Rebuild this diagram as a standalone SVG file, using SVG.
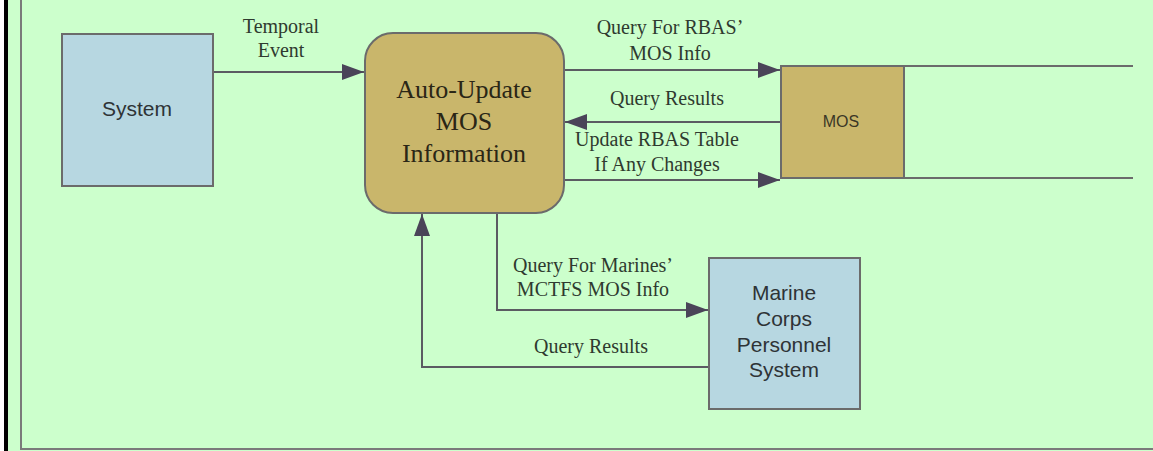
<svg xmlns="http://www.w3.org/2000/svg" width="1153" height="451" viewBox="0 0 1153 451">
<style>
.blue{fill:#b7d7e1;stroke:#6b6b6b;stroke-width:2}
.gold{fill:#c9b66b;stroke:#6b6b6b;stroke-width:2}
.conn{fill:none;stroke:#5b5b62;stroke-width:2}
.lbl{font-family:"Liberation Serif","Times New Roman",serif;font-size:20px;fill:#2f3a2f;text-anchor:middle}
.ntxt{font-family:"Liberation Serif","Times New Roman",serif;font-size:26px;fill:#2a2616;text-anchor:middle}
.stxt{font-family:"Liberation Sans",Arial,sans-serif;font-size:21px;fill:#2e3336;text-anchor:middle}
</style>
<defs>
<marker id="ah" markerUnits="userSpaceOnUse" markerWidth="24" markerHeight="18" refX="22" refY="8" orient="auto">
<path d="M0,0 L22,8 L0,16 z" fill="#4a4458"/>
</marker>
</defs>
<rect x="0" y="0" width="1153" height="451" fill="#ccffcc"/>
<rect x="0" y="0" width="4" height="451" fill="#ffffff"/>
<rect x="4" y="0" width="4" height="451" fill="#000000"/>
<path d="M21,0 V449 H1153" fill="none" stroke="#7a7a7a" stroke-width="2"/>

<g id="connectors">
<path class="conn" d="M213,72 H364" marker-end="url(#ah)"/>
<path class="conn" d="M564,70 H780" marker-end="url(#ah)"/>
<path class="conn" d="M781,122 H565" marker-end="url(#ah)"/>
<path class="conn" d="M564,180 H780" marker-end="url(#ah)"/>
<path class="conn" d="M497,213 V310 H708" marker-end="url(#ah)"/>
<path class="conn" d="M709,367 H422 V214" marker-end="url(#ah)"/>
<text class="lbl" x="281" y="33">Temporal</text>
<text class="lbl" x="281" y="57">Event</text>
<text class="lbl" x="670" y="34">Query For RBAS’</text>
<text class="lbl" x="670" y="60">MOS Info</text>
<text class="lbl" x="667" y="105">Query Results</text>
<text class="lbl" x="657" y="146">Update RBAS Table</text>
<text class="lbl" x="657" y="171">If Any Changes</text>
<text class="lbl" x="593" y="272">Query For Marines’</text>
<text class="lbl" x="593" y="296">MCTFS MOS Info</text>
<text class="lbl" x="591" y="353">Query Results</text>
</g>

<g id="system">
<rect class="blue" x="62" y="34" width="151" height="152"/>
<text class="stxt" x="137" y="116">System</text>
</g>

<g id="auto-update">
<rect class="gold" x="365" y="33" width="199" height="180" rx="28" ry="28"/>
<text class="ntxt" x="464" y="98">Auto-Update</text>
<text class="ntxt" x="464" y="130">MOS</text>
<text class="ntxt" x="464" y="162">Information</text>
</g>

<g id="mos">
<rect class="gold" x="781" y="66" width="123" height="112"/>
<path d="M781,66 H1133 M781,178 H1133" fill="none" stroke="#6b6b6b" stroke-width="2"/>
<text x="841" y="127" style="font-family:'Liberation Sans',Arial,sans-serif;font-size:16px;fill:#3a3626;text-anchor:middle">MOS</text>
</g>

<g id="mcps">
<rect class="blue" x="709" y="258" width="151" height="151"/>
<text class="stxt" x="784" y="300">Marine</text>
<text class="stxt" x="784" y="326">Corps</text>
<text class="stxt" x="784" y="352">Personnel</text>
<text class="stxt" x="784" y="377">System</text>
</g>
</svg>
